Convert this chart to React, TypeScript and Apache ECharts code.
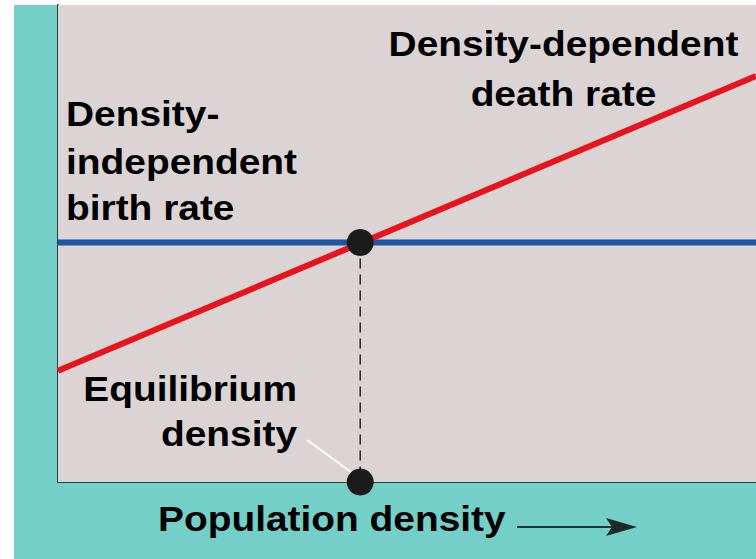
import React, { useEffect, useRef } from "react";
import * as echarts from "echarts";

// Data (x: population density 0-100, y: rate 0-100)
const deathRateLine: [number, number][] = [[0, 23.3], [100, 85.1]];
const birthRateLine: [number, number][] = [[0, 50.2], [100, 50.2]];
const equilibriumDensity = 43.3;
const equilibriumRate = 50.2;
const pointerLine: [number, number][] = [[35.7, 8.8], [42.1, 1.95]];

const titleTexts = {
  deathTitle: ["Density-dependent", "death rate"],
  birthTitle: ["Density-", "independent", "birth rate"],
  eqTitle: ["Equilibrium", "density"],
  xTitle: "Population density",
};

const FONT = "'Liberation Sans', Arial, Helvetica, sans-serif";
const FS = 36;
const SX = 1.08;

function txt(text: string, x: number, baseline: number, align: string) {
  return {
    type: "text",
    x,
    y: baseline - 13,
    scaleX: SX,
    z: 100,
    style: {
      text,
      fontSize: FS,
      fontWeight: "bold",
      fontFamily: FONT,
      fill: "#000",
      textAlign: align,
      textVerticalAlign: "middle",
    },
  };
}

export default function App() {
  const ref = useRef<HTMLDivElement>(null);
  useEffect(() => {
    if (!ref.current) return;
    const chart = echarts.init(ref.current, undefined, { renderer: "svg" });
    chart.setOption({
      animation: false,
      backgroundColor: "#ffffff",
      grid: {
        left: 58,
        right: 0,
        top: 5,
        bottom: 77,
        show: true,
        backgroundColor: "#dcd4d4",
        borderWidth: 0,
        z: 1,
      },
      xAxis: {
        type: "value",
        min: 0,
        max: 100,
        axisLine: { show: true, onZero: false, lineStyle: { color: "#2b3d3d", width: 2 } },
        axisTick: { show: false },
        axisLabel: { show: false },
        splitLine: { show: false },
      },
      yAxis: {
        type: "value",
        min: 0,
        max: 100,
        axisLine: { show: true, onZero: false, lineStyle: { color: "#2b3d3d", width: 2 } },
        axisTick: { show: false },
        axisLabel: { show: false },
        splitLine: { show: false },
      },
      graphic: [
        {
          type: "rect",
          z: -100,
          shape: { x: 14, y: 5, width: 742, height: 554 },
          style: { fill: "#74cfc8" },
        },
        txt(titleTexts.deathTitle[0], 563.5, 57, "center"),
        txt(titleTexts.deathTitle[1], 563.5, 107, "center"),
        txt(titleTexts.birthTitle[0], 66, 127, "left"),
        txt(titleTexts.birthTitle[1], 66, 175, "left"),
        txt(titleTexts.birthTitle[2], 66, 221, "left"),
        txt(titleTexts.eqTitle[0], 297, 402, "right"),
        txt(titleTexts.eqTitle[1], 297, 447, "right"),
        txt(titleTexts.xTitle, 158, 532, "left"),
        {
          type: "line",
          z: 100,
          shape: { x1: 517, y1: 527, x2: 612, y2: 527 },
          style: { stroke: "#1d3535", lineWidth: 2 },
        },
        {
          type: "polygon",
          z: 100,
          shape: { points: [[606, 518], [637, 527], [606, 536], [612, 527]] },
          style: { fill: "#1d2a2a" },
        },
      ],
      series: [
        {
          type: "line",
          data: pointerLine,
          symbol: "none",
          lineStyle: { color: "#ffffff", width: 2 },
          z: 3,
        },
        {
          type: "line",
          data: [[equilibriumDensity, equilibriumRate], [equilibriumDensity, 0]],
          symbol: "none",
          lineStyle: { color: "#2a2a2a", width: 1.6, type: [10, 6] },
          z: 3,
        },
        {
          type: "line",
          data: birthRateLine,
          symbol: "none",
          lineStyle: { color: "#1e56a0", width: 6 },
          z: 4,
        },
        {
          type: "line",
          data: deathRateLine,
          symbol: "none",
          lineStyle: { color: "#e8131c", width: 6 },
          z: 5,
        },
        {
          type: "scatter",
          data: [[equilibriumDensity, equilibriumRate], [equilibriumDensity, 0]],
          symbolSize: 27,
          itemStyle: { color: "#1b1b1b", opacity: 1 },
          clip: false,
          z: 6,
        },
      ],
    });
    return () => chart.dispose();
  }, []);
  return (
    <div
      ref={ref}
      style={{ position: "fixed", left: 0, top: 0, width: 756, height: 559 }}
    />
  );
}
